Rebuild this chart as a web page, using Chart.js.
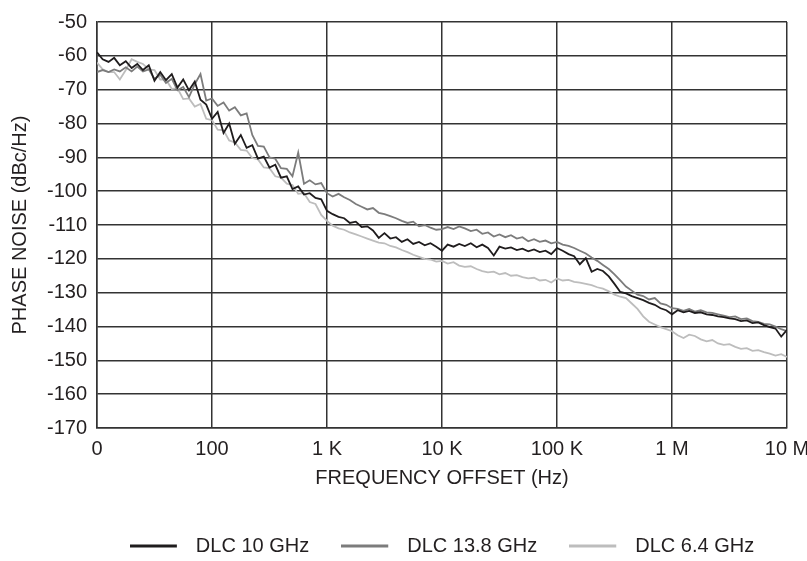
<!DOCTYPE html>
<html>
<head>
<meta charset="utf-8">
<title>Phase noise</title>
<script src="https://cdn.jsdelivr.net/npm/chart.js@4.4.1/dist/chart.umd.min.js"></script>
<style>
  html, body { margin: 0; padding: 0; background: #fff; }
  #wrap { width: 807px; height: 561px; }
</style>
</head>
<body>
<div id="wrap"><canvas id="pnChart" width="807" height="561"></canvas></div>
<script>
const freqHz = [
  1e1, 1.12e1, 1.26e1, 1.41e1, 1.58e1, 1.78e1, 2e1, 2.24e1, 2.51e1, 2.82e1, 3.16e1, 3.55e1, 3.98e1, 4.47e1, 5.01e1, 5.62e1, 6.31e1, 7.08e1, 7.94e1, 8.91e1,
  1e2, 1.12e2, 1.26e2, 1.41e2, 1.58e2, 1.78e2, 2e2, 2.24e2, 2.51e2, 2.82e2, 3.16e2, 3.55e2, 3.98e2, 4.47e2, 5.01e2, 5.62e2, 6.31e2, 7.08e2, 7.94e2, 8.91e2,
  1e3, 1.12e3, 1.26e3, 1.41e3, 1.58e3, 1.78e3, 2e3, 2.24e3, 2.51e3, 2.82e3, 3.16e3, 3.55e3, 3.98e3, 4.47e3, 5.01e3, 5.62e3, 6.31e3, 7.08e3, 7.94e3, 8.91e3,
  1e4, 1.12e4, 1.26e4, 1.41e4, 1.58e4, 1.78e4, 2e4, 2.24e4, 2.51e4, 2.82e4, 3.16e4, 3.55e4, 3.98e4, 4.47e4, 5.01e4, 5.62e4, 6.31e4, 7.08e4, 7.94e4, 8.91e4,
  1e5, 1.12e5, 1.26e5, 1.41e5, 1.58e5, 1.78e5, 2e5, 2.24e5, 2.51e5, 2.82e5, 3.16e5, 3.55e5, 3.98e5, 4.47e5, 5.01e5, 5.62e5, 6.31e5, 7.08e5, 7.94e5, 8.91e5,
  1e6, 1.12e6, 1.26e6, 1.41e6, 1.58e6, 1.78e6, 2e6, 2.24e6, 2.51e6, 2.82e6, 3.16e6, 3.55e6, 3.98e6, 4.47e6, 5.01e6, 5.62e6, 6.31e6, 7.08e6, 7.94e6, 8.91e6,
  1e7
];

// DLC 10 GHz (black)
const dlc10 = [
  -59.0, -61.0, -61.8, -60.6, -62.8, -61.6, -63.6, -62.4, -64.2, -62.8, -67.4, -64.8, -67.2, -65.4, -69.4, -67.0, -70.2, -67.6, -73.0, -74.4,
  -78.6, -76.6, -82.8, -80.0, -86.0, -83.4, -87.2, -86.4, -90.4, -89.8, -93.0, -92.2, -96.0, -95.6, -99.4, -98.6, -101.0, -100.6, -102.0, -102.4,
  -105.8, -106.8, -107.6, -108.0, -109.4, -109.0, -110.6, -110.4, -111.6, -113.8, -112.4, -114.0, -113.6, -115.0, -114.2, -115.6, -115.0, -116.0, -115.4, -116.4,
  -117.6, -115.8, -116.4, -115.6, -116.2, -115.4, -116.6, -115.8, -116.8, -119.0, -116.4, -117.0, -116.6, -117.4, -117.0, -117.8, -117.2, -118.0, -117.6, -118.6,
  -116.8, -117.6, -118.6, -119.2, -121.6, -119.8, -123.8, -123.0, -123.6, -125.2, -127.4, -129.8, -130.2, -131.0, -131.6, -132.2, -133.0, -133.6, -134.6, -135.2,
  -136.4, -135.2, -135.8, -135.4, -136.0, -135.8, -136.4, -136.6, -137.0, -137.2, -137.6, -137.8, -138.4, -138.2, -139.0, -138.8, -139.6, -140.2, -140.6, -143.0,
  -141.0
];

// DLC 13.8 GHz (mid grey)
const dlc138 = [
  -64.8, -64.2, -64.8, -64.0, -64.6, -63.4, -64.6, -63.2, -64.6, -64.0, -66.8, -65.6, -68.0, -66.8, -70.2, -69.2, -72.2, -68.4, -65.4, -73.2,
  -72.6, -74.8, -73.8, -76.2, -75.2, -77.6, -77.0, -83.4, -86.6, -86.8, -90.0, -90.4, -93.2, -93.4, -95.6, -88.6, -97.8, -96.8, -98.0, -97.6,
  -100.6, -101.6, -100.8, -101.8, -102.6, -103.8, -104.6, -105.4, -105.0, -106.4, -106.8, -107.4, -108.0, -108.8, -109.4, -109.0, -110.4, -110.0, -110.8, -111.4,
  -111.2, -110.6, -111.2, -110.4, -111.0, -111.8, -111.4, -112.6, -112.2, -113.4, -112.8, -113.6, -113.0, -114.0, -113.6, -114.8, -114.2, -115.0, -114.6, -115.4,
  -115.0, -115.8, -116.2, -116.8, -117.6, -118.4, -119.6, -120.6, -121.8, -123.0, -124.6, -126.4, -128.2, -129.4, -130.6, -131.0, -132.0, -131.6, -133.2, -133.6,
  -134.6, -134.8, -135.4, -134.8, -135.6, -135.2, -135.8, -136.0, -136.4, -136.8, -137.2, -137.0, -137.8, -137.6, -138.4, -138.6, -139.2, -139.4, -140.0, -140.8,
  -141.4
];

// DLC 6.4 GHz (light grey)
const dlc64 = [
  -62.0, -64.0, -64.8, -64.8, -67.0, -64.2, -61.0, -61.8, -62.4, -64.0, -64.2, -67.0, -67.0, -69.8, -69.6, -72.8, -72.6, -75.0, -74.2, -78.6,
  -79.0, -81.8, -82.0, -85.0, -85.6, -87.8, -88.0, -90.2, -90.6, -93.0, -93.2, -95.6, -96.0, -97.8, -98.2, -100.8, -100.6, -103.2, -103.8, -107.0,
  -108.8, -110.2, -111.0, -111.4, -112.2, -112.8, -113.4, -114.0, -114.6, -115.2, -115.4, -116.2, -116.6, -117.4, -118.0, -118.8, -119.4, -120.0, -120.2, -120.8,
  -120.6, -121.4, -121.0, -122.0, -122.4, -122.2, -123.0, -123.6, -124.0, -123.8, -124.6, -124.2, -125.0, -124.8, -125.4, -125.8, -125.6, -126.4, -126.2, -127.0,
  -125.8, -126.4, -126.2, -126.8, -127.0, -127.4, -127.8, -128.4, -128.8, -129.6, -130.6, -131.2, -131.6, -133.2, -134.8, -137.0, -138.6, -139.4, -140.2, -140.8,
  -141.4, -142.6, -143.4, -142.4, -142.8, -143.8, -144.4, -144.0, -145.0, -145.4, -145.2, -146.0, -146.6, -146.4, -147.2, -147.0, -147.6, -148.0, -148.6, -148.2,
  -149.0
];

const seriesNames = ["DLC 10 GHz", "DLC 13.8 GHz", "DLC 6.4 GHz"];
const seriesColors = ["#1f1c1d", "#7c7c7c", "#bdbdbd"];

const freqTickValues = [1e1, 1e2, 1e3, 1e4, 1e5, 1e6, 1e7];
const freqTickLabels = ["0", "100", "1 K", "10 K", "100 K", "1 M", "10 M"];

// ——— chart ———
const FONT = "'Liberation Sans', Arial, Helvetica, sans-serif";
const INK = "#231f20";
const GRID = "#333333";

// legend swatch: 47px line, then a small gap before the label
function legendSwatch(color) {
  const c = document.createElement("canvas");
  c.width = 56;
  c.height = 4;
  const g = c.getContext("2d");
  g.strokeStyle = color;
  g.lineWidth = 3;
  g.beginPath();
  g.moveTo(0, 2);
  g.lineTo(47, 2);
  g.stroke();
  return c;
}

const datasets = [dlc10, dlc138, dlc64].map((vals, idx) => ({
  label: seriesNames[idx],
  data: vals.map((v, i) => ({ x: freqHz[i], y: v })),
  borderColor: seriesColors[idx],
  backgroundColor: seriesColors[idx],
  borderWidth: 1.8,
  pointRadius: 0,
  tension: 0,
}));

const ctx = document.getElementById("pnChart").getContext("2d");
new Chart(ctx, {
  type: "line",
  data: { datasets },
  options: {
    responsive: false,
    devicePixelRatio: 1,
    animation: false,
    layout: { padding: { left: 0, right: 20, top: 16, bottom: -5 } },
    scales: {
      x: {
        type: "logarithmic",
        min: 1e1,
        max: 1e7,
        afterBuildTicks: (scale) => {
          scale.ticks = freqTickValues.map((v) => ({ value: v }));
        },
        afterFit: (scale) => {
          scale.height = 76;
          scale.paddingLeft = 0;
          scale.paddingRight = 0;
        },
        ticks: {
          autoSkip: false,
          maxRotation: 0,
          padding: 9,
          color: INK,
          font: { family: FONT, size: 20 },
          callback: (val) => {
            const k = freqTickValues.indexOf(val);
            return k >= 0 ? freqTickLabels[k] : "";
          },
        },
        grid: { color: GRID, lineWidth: 1.5, drawTicks: false },
        border: { color: GRID, width: 1.5 },
        title: {
          display: true,
          text: "FREQUENCY OFFSET (Hz)",
          color: INK,
          font: { family: FONT, size: 20 },
          padding: { top: 0, bottom: 14 },
        },
      },
      y: {
        min: -170,
        max: -50,
        afterFit: (scale) => {
          scale.width = 97;
        },
        ticks: {
          stepSize: 10,
          padding: 10,
          color: INK,
          font: { family: FONT, size: 20 },
          callback: (val) => String(val),
        },
        grid: { color: GRID, lineWidth: 1.5, drawTicks: false },
        border: { color: GRID, width: 1.5 },
        title: {
          display: true,
          text: "PHASE NOISE (dBc/Hz)",
          color: INK,
          font: { family: FONT, size: 20 },
          padding: { top: 8, bottom: 0 },
        },
      },
    },
    plugins: {
      tooltip: { enabled: false },
      legend: {
        position: "bottom",
        fullSize: false,
        labels: {
          usePointStyle: true,
          pointStyleWidth: 56,
          padding: 32,
          color: INK,
          font: { family: FONT, size: 20 },
          generateLabels: (chart) =>
            Chart.defaults.plugins.legend.labels
              .generateLabels(chart)
              .map((item, i) => ({ ...item, pointStyle: legendSwatch(seriesColors[i]) })),
        },
      },
    },
  },
});
</script>
</body>
</html>
